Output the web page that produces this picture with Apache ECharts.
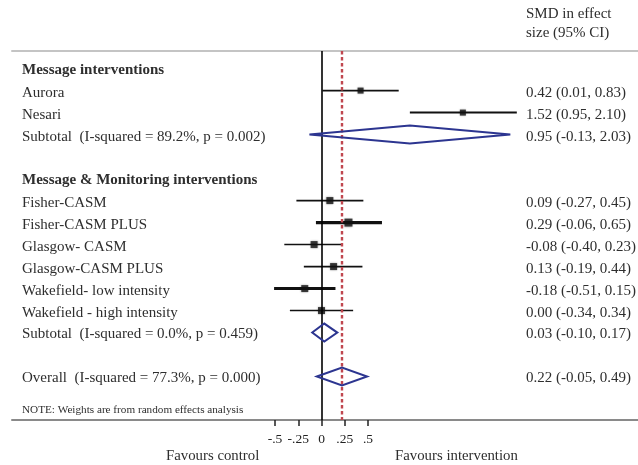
<!DOCTYPE html>
<html><head><meta charset="utf-8">
<script src="https://cdn.jsdelivr.net/npm/echarts@6/dist/echarts.min.js"></script>
<style>html,body{margin:0;padding:0;background:#fff}#c{width:638px;height:465px}</style>
</head><body><div id="c"></div>
<script>
// ---- data ----
const studyNames = ["Aurora","Nesari","Fisher-CASM","Fisher-CASM PLUS","Glasgow- CASM","Glasgow-CASM PLUS","Wakefield- low intensity","Wakefield - high intensity"];
const studyRows = [1,2,6,7,8,9,10,11];
const studyEst = [0.42,1.52,0.09,0.29,-0.08,0.13,-0.18,0.00];
const studyLo = [0.01,0.95,-0.27,-0.06,-0.40,-0.19,-0.51,-0.34];
const studyHi = [0.83,2.10,0.45,0.65,0.23,0.44,0.15,0.34];
const pooledNames = ["Subtotal  (I-squared = 89.2%, p = 0.002)","Subtotal  (I-squared = 0.0%, p = 0.459)","Overall  (I-squared = 77.3%, p = 0.000)"];
const pooledRows = [3,12,14];
const pooledEst = [0.95,0.03,0.22];
const pooledLo = [-0.13,-0.10,-0.05];
const pooledHi = [2.03,0.17,0.49];
const groupNames = ["Message interventions","Message & Monitoring interventions"];
const groupRows = [0,5];
const tickValues = [-0.5,-0.25,0,0.25,0.5];
const tickLabels = ["-.5","-.25","0",".25",".5"];
const overallLine = 0.22;

// ---- styles (not data) ----
const boxSize = [6,6,7,8,7,7,7,7];
const barWidth = [1.6,2,1.6,3.2,1.6,1.8,3,1.6];
const FONT = "'Liberation Serif','Times New Roman',serif";
const TXT = '#2e2e2e';

const fmt = (e,l,h)=> e.toFixed(2)+' ('+l.toFixed(2)+', '+h.toFixed(2)+')';

const textItems = [];
groupNames.forEach((n,i)=>textItems.push({row:groupRows[i], left:n, right:'', bold:true}));
studyNames.forEach((n,i)=>textItems.push({row:studyRows[i], left:n, right:fmt(studyEst[i],studyLo[i],studyHi[i]), bold:false}));
pooledNames.forEach((n,i)=>textItems.push({row:pooledRows[i], left:n, right:fmt(pooledEst[i],pooledLo[i],pooledHi[i]), bold:false}));

const chart = echarts.init(document.getElementById('c'));
const XMIN = -3.328, XMAX = 3.403;

chart.setOption({
  animation:false,
  backgroundColor:'#fff',
  grid:{left:12,right:0,top:51,bottom:45},
  xAxis:[{
    type:'value', min:XMIN, max:XMAX, position:'bottom',
    splitLine:{show:false},
    axisLine:{show:true,onZero:false,lineStyle:{color:'#8a8a8a',width:2}},
    axisTick:{show:true,length:6,customValues:tickValues,lineStyle:{color:'#222',width:1.5}},
    axisLabel:{show:true,customValues:tickValues,margin:12,color:'#222',fontFamily:FONT,fontSize:13.5,
      formatter:v=>{const i=tickValues.findIndex(t=>Math.abs(t-v)<1e-9);return i>=0?tickLabels[i]:'';}}
  },{
    type:'value', min:XMIN, max:XMAX, position:'top',
    splitLine:{show:false},
    axisLine:{show:true,onZero:false,lineStyle:{color:'#c4c4c4',width:2}},
    axisTick:{show:false}, axisLabel:{show:false}
  }],
  yAxis:{type:'value',min:-0.8,max:15.975,inverse:true,show:false},
  graphic:[
    {type:'text',left:526,top:7,style:{text:'SMD in effect',font:'15px '+FONT,fill:TXT}},
    {type:'text',left:526,top:26,style:{text:'size (95% CI)',font:'15px '+FONT,fill:TXT}},
    {type:'text',left:22,top:405,style:{text:'NOTE: Weights are from random effects analysis',font:'11.2px '+FONT,fill:TXT}},
    {type:'text',left:166,top:449,style:{text:'Favours control',font:'14.8px '+FONT,fill:TXT}},
    {type:'text',left:395,top:449,style:{text:'Favours intervention',font:'14.8px '+FONT,fill:TXT}}
  ],
  series:[
    {
      type:'custom', name:'ci', xAxisIndex:0,
      data: studyRows.map((r,i)=>[studyLo[i],studyHi[i],r,i]),
      renderItem:(params,api)=>{
        const i = api.value(3);
        const a = api.coord([api.value(0),api.value(2)]);
        const b = api.coord([api.value(1),api.value(2)]);
        return {type:'line',shape:{x1:a[0],y1:a[1],x2:b[0],y2:b[1]},style:{stroke:'#111',lineWidth:barWidth[i]}};
      },
      markLine:{
        silent:true, symbol:'none', label:{show:false},
        data:[
          {xAxis:0,lineStyle:{color:'#000',width:1.6,type:'solid'}},
          {xAxis:overallLine,lineStyle:{color:'#c0474f',width:2.4,type:[3.5,2.5]}}
        ]
      },
      z:3
    },
    {
      type:'scatter', name:'est', xAxisIndex:0,
      data: studyRows.map((r,i)=>[studyEst[i],r]),
      symbol:'rect',
      symbolSize:(v,p)=>boxSize[p.dataIndex],
      itemStyle:{color:'#111',shadowBlur:2,shadowColor:'rgba(0,0,0,0.4)'},
      z:4
    },
    {
      type:'custom', name:'pooled', xAxisIndex:0,
      data: pooledRows.map((r,i)=>[pooledLo[i],pooledEst[i],pooledHi[i],r]),
      renderItem:(params,api)=>{
        const r = api.value(3);
        const l = api.coord([api.value(0),r]);
        const m = api.coord([api.value(1),r]);
        const h = api.coord([api.value(2),r]);
        const hh = 9;
        return {type:'polygon',shape:{points:[[l[0],l[1]],[m[0],m[1]-hh],[h[0],h[1]],[m[0],m[1]+hh]]},
          style:{fill:'none',stroke:'#2c3590',lineWidth:2}};
      },
      z:5
    },
    {
      type:'custom', name:'text', xAxisIndex:0,
      data: textItems.map((t,i)=>[0,t.row,i]),
      renderItem:(params,api)=>{
        const t = textItems[api.value(2)];
        const y = api.coord([0,t.row])[1] + 2;
        const cs = params.coordSys;
        const children = [{type:'text',x:cs.x+10,y:y,style:{text:t.left,fontFamily:FONT,fontSize:15,fontWeight:t.bold?'bold':'normal',fill:TXT,align:'left',verticalAlign:'middle'}}];
        if (t.right) children.push({type:'text',x:cs.x+514,y:y,style:{text:t.right,fontFamily:FONT,fontSize:15,fill:TXT,align:'left',verticalAlign:'middle'}});
        return {type:'group',children};
      },
      z:6
    }
  ]
});
</script>
</body></html>
